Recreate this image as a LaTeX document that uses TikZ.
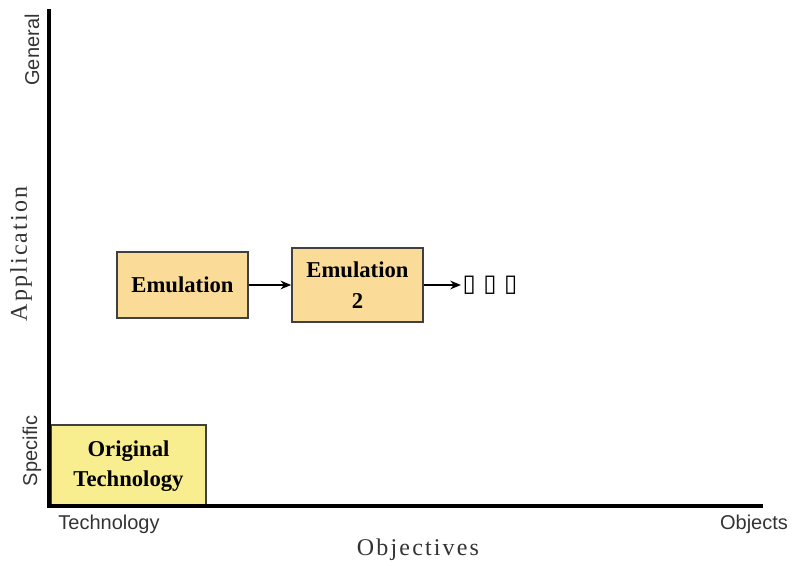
\documentclass[tikz,border=0pt]{standalone}
\usepackage{fontspec}
\setmainfont{Liberation Serif}
\setsansfont{Liberation Sans}
\newfontfamily\spacedserif[LetterSpace=9]{Liberation Serif}
\newfontfamily\glyphfont{DejaVu Sans}
\usepackage{xcolor}
\usepackage{tikz}
\usetikzlibrary{shapes,arrows.meta,positioning,calc}

\definecolor{origfill}{HTML}{F8EE90}
\definecolor{emufill}{HTML}{FADC98}

\begin{document}
\begin{tikzpicture}[
    x=0.75pt, y=-0.75pt,
    stage/.style={rectangle, draw=black!75, line width=1.2pt, align=center, inner sep=2pt, font=\fontsize{17}{23}\selectfont\bfseries},
    axisline/.style={line width=3pt, line cap=rect},
    axlabel/.style={font=\sffamily\fontsize{15}{18}\selectfont, text=black!80, inner sep=0pt},
    axtitle/.style={font=\spacedserif\fontsize{18}{20}\selectfont, text=black!80, inner sep=0pt},
    arrow/.style={->, >={Stealth[length=8pt, width=6.5pt]}, line width=1pt},
]
    \useasboundingbox (0,0) rectangle (794,566);
    % corner points of the axes
    \coordinate (origin) at (49,506);
    \coordinate (ytop) at (49,11);
    \coordinate (xend) at (761,506);

    \node[stage, fill=origfill, minimum width=116pt, minimum height=61.5pt] (orig) at (128.5,466) {Original\\Technology};
    \node[stage, fill=emufill, minimum width=98.25pt, minimum height=49.5pt] (emu1) at (182.5,285) {Emulation};
    \node[stage, fill=emufill, minimum width=98.25pt, minimum height=55.5pt] (emu2) at (357.5,285) {Emulation\\2};
    \node[inner sep=1pt, font=\glyphfont\fontsize{18}{20}\selectfont] (more) at (490,285) {▯ ▯ ▯};

    \draw[arrow] (emu1.east) -- (emu2.west);
    \draw[arrow] (emu2.east) -- (more.west);

    \draw[axisline] (ytop) -- (origin) -- (xend);

    \node[axlabel, rotate=90] (gen) at (32,50) {General};
    \node[axlabel, rotate=90] (spec) at (32,451) {Specific};
    \node[axlabel] (tech) at (109,524) {Technology};
    \node[axlabel] (obj) at (754,524) {Objects};
    \node[axtitle, rotate=90] (app) at (21,254) {Application};
    \node[axtitle] (objv) at (418,550) {Objectives};
\end{tikzpicture}
\end{document}
